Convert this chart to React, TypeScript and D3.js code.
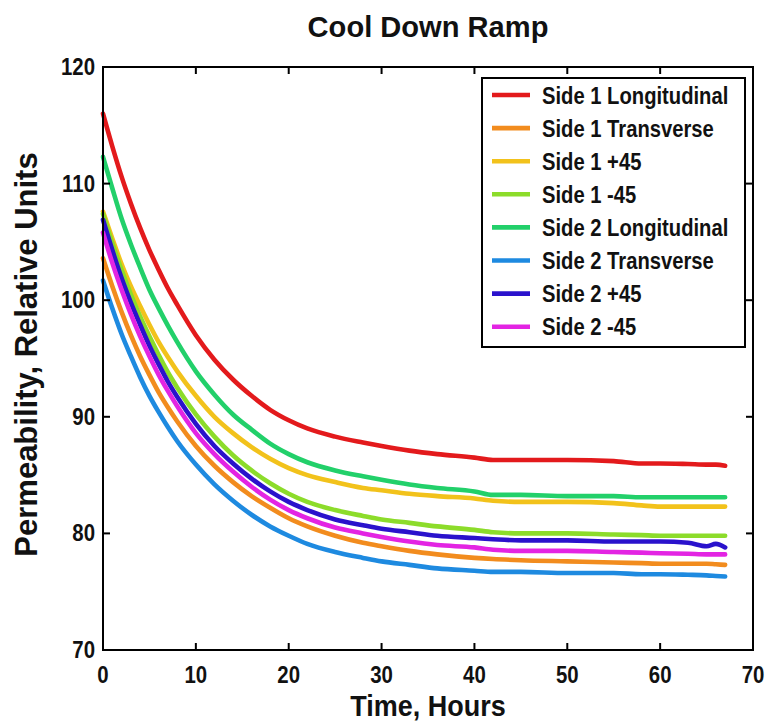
import React from "react";
import * as d3 from "d3";

const hours = [0, 1, 2, 3, 4, 5, 6, 7, 8, 10, 12, 14, 16, 18, 20, 22, 25, 28, 30, 33, 36, 40, 42, 45, 50, 55, 58, 60, 63, 65, 66, 67];

const side1Longitudinal = [116.0, 113.2, 110.6, 108.3, 106.2, 104.3, 102.6, 101.0, 99.6, 97.0, 94.9, 93.2, 91.8, 90.6, 89.7, 89.0, 88.3, 87.8, 87.5, 87.1, 86.8, 86.5, 86.3, 86.3, 86.3, 86.2, 86.0, 86.0, 85.95, 85.9, 85.9, 85.8];
const side1Transverse = [103.6, 101.2, 99.0, 97.0, 95.2, 93.6, 92.1, 90.8, 89.6, 87.5, 85.8, 84.4, 83.2, 82.2, 81.3, 80.6, 79.8, 79.2, 78.9, 78.5, 78.2, 77.9, 77.8, 77.7, 77.6, 77.5, 77.45, 77.4, 77.4, 77.4, 77.35, 77.3];
const side1Plus45 = [107.6, 105.3, 103.1, 101.2, 99.5, 97.9, 96.4, 95.1, 93.9, 91.8, 90.0, 88.6, 87.4, 86.4, 85.6, 85.0, 84.4, 83.9, 83.7, 83.4, 83.2, 83.0, 82.8, 82.7, 82.7, 82.6, 82.4, 82.3, 82.3, 82.3, 82.3, 82.3];
const side1Minus45 = [107.4, 104.9, 102.6, 100.5, 98.6, 96.9, 95.3, 93.8, 92.5, 90.2, 88.3, 86.7, 85.4, 84.3, 83.4, 82.7, 82.0, 81.5, 81.2, 80.9, 80.6, 80.3, 80.1, 80.0, 80.0, 79.9, 79.85, 79.8, 79.8, 79.8, 79.8, 79.8];
const side2Longitudinal = [112.3, 109.6, 107.0, 104.8, 102.8, 100.9, 99.3, 97.8, 96.4, 93.9, 91.9, 90.2, 88.9, 87.7, 86.8, 86.1, 85.4, 84.9, 84.6, 84.2, 83.9, 83.6, 83.3, 83.3, 83.2, 83.2, 83.1, 83.1, 83.1, 83.1, 83.1, 83.1];
const side2Transverse = [101.7, 99.3, 97.1, 95.2, 93.4, 91.8, 90.4, 89.1, 87.9, 85.9, 84.2, 82.8, 81.6, 80.6, 79.8, 79.1, 78.4, 77.9, 77.6, 77.3, 77.0, 76.8, 76.7, 76.7, 76.6, 76.6, 76.5, 76.5, 76.45, 76.4, 76.35, 76.3];
const side2Plus45 = [106.9, 104.3, 101.9, 99.8, 97.9, 96.1, 94.5, 93.0, 91.7, 89.4, 87.5, 86.0, 84.7, 83.6, 82.7, 82.0, 81.2, 80.7, 80.4, 80.1, 79.8, 79.6, 79.5, 79.4, 79.4, 79.3, 79.3, 79.3, 79.2, 78.9, 79.1, 78.8];
const side2Minus45 = [105.8, 103.2, 100.9, 98.8, 96.9, 95.2, 93.6, 92.2, 90.9, 88.6, 86.8, 85.3, 84.0, 82.9, 82.0, 81.3, 80.5, 80.0, 79.7, 79.3, 79.0, 78.8, 78.6, 78.5, 78.5, 78.4, 78.35, 78.3, 78.25, 78.2, 78.2, 78.2];

const seriesNames = ["Side 1 Longitudinal", "Side 1 Transverse", "Side 1 +45", "Side 1 -45", "Side 2 Longitudinal", "Side 2 Transverse", "Side 2 +45", "Side 2 -45"];
const seriesValues = [side1Longitudinal, side1Transverse, side1Plus45, side1Minus45, side2Longitudinal, side2Transverse, side2Plus45, side2Minus45];
const seriesColors = ["#e31a1c", "#f28c1e", "#f2c21b", "#8cdc2a", "#22d06a", "#1e8ae0", "#2a12cc", "#e324e3"];

const xTicks = [0, 10, 20, 30, 40, 50, 60, 70];
const yTicks = [70, 80, 90, 100, 110, 120];

const title = "Cool Down Ramp";
const xLabel = "Time, Hours";
const yLabel = "Permeability, Relative Units";

const FONT = "'Liberation Sans', Arial, sans-serif";

function T(props: { x: number; y: number; sx?: number; size: number; anchor?: string; rotate?: number; children: React.ReactNode }) {
  const { x, y, sx = 1, size, anchor = "start", rotate = 0, children } = props;
  return (
    <text
      transform={`translate(${x},${y}) rotate(${rotate}) scale(${sx},1)`}
      textAnchor={anchor}
      fontSize={size}
      fill="#111"
    >
      {children}
    </text>
  );
}

export default function App() {
  const W = 770, H = 728;
  const left = 103, right = 753, top = 67, bottom = 650;
  const x = d3.scaleLinear().domain([0, 70]).range([left, right]);
  const y = d3.scaleLinear().domain([70, 120]).range([bottom, top]);
  const line = d3.line<number>().x((_, i) => x(hours[i])).y((v) => y(v)).curve(d3.curveMonotoneX);
  const tickLen = 7;
  const legX = 482, legY = 78, legW = 263, legH = 269;
  const rowH = 33.1;
  return (
    <svg width={W} height={H} style={{ position: "absolute", left: 0, top: 0, background: "#fff" }} fontFamily={FONT} fontWeight="bold">
      <rect x={0} y={0} width={W} height={H} fill="#fff" />
      <T x={(left + right) / 2} y={37} size={30} sx={0.97} anchor="middle">{title}</T>
      {seriesValues.map((vals, k) => (
        <path key={k} d={line(vals) || ""} fill="none" stroke={seriesColors[k]} strokeWidth={4.6} strokeLinejoin="round" strokeLinecap="round" />
      ))}
      <rect x={left} y={top} width={right - left} height={bottom - top} fill="none" stroke="#000" strokeWidth={2} />
      {xTicks.map((t) => (
        <g key={"x" + t}>
          <line x1={x(t)} x2={x(t)} y1={bottom} y2={bottom - tickLen} stroke="#000" strokeWidth={2} />
          <line x1={x(t)} x2={x(t)} y1={top} y2={top + tickLen} stroke="#000" strokeWidth={2} />
          <T x={x(t)} y={683} size={24} sx={0.85} anchor="middle">{t}</T>
        </g>
      ))}
      {yTicks.map((t) => (
        <g key={"y" + t}>
          <line x1={left} x2={left + tickLen} y1={y(t)} y2={y(t)} stroke="#000" strokeWidth={2} />
          <line x1={right} x2={right - tickLen} y1={y(t)} y2={y(t)} stroke="#000" strokeWidth={2} />
          <T x={95} y={y(t) + 8} size={24} sx={0.85} anchor="end">{t}</T>
        </g>
      ))}
      <T x={(left + right) / 2} y={716} size={30} sx={0.9} anchor="middle">{xLabel}</T>
      <T x={37} y={(top + bottom) / 2 - 4} size={31} rotate={-90} anchor="middle">{yLabel}</T>
      <rect x={legX} y={legY} width={legW} height={legH} fill="#fff" stroke="#000" strokeWidth={2} />
      {seriesNames.map((name, k) => {
        const cy = legY + 17 + k * rowH;
        return (
          <g key={name}>
            <line x1={492} x2={530} y1={cy} y2={cy} stroke={seriesColors[k]} strokeWidth={4.6} />
            <T x={542} y={cy + 8.5} size={23.5} sx={0.86}>{name}</T>
          </g>
        );
      })}
    </svg>
  );
}
